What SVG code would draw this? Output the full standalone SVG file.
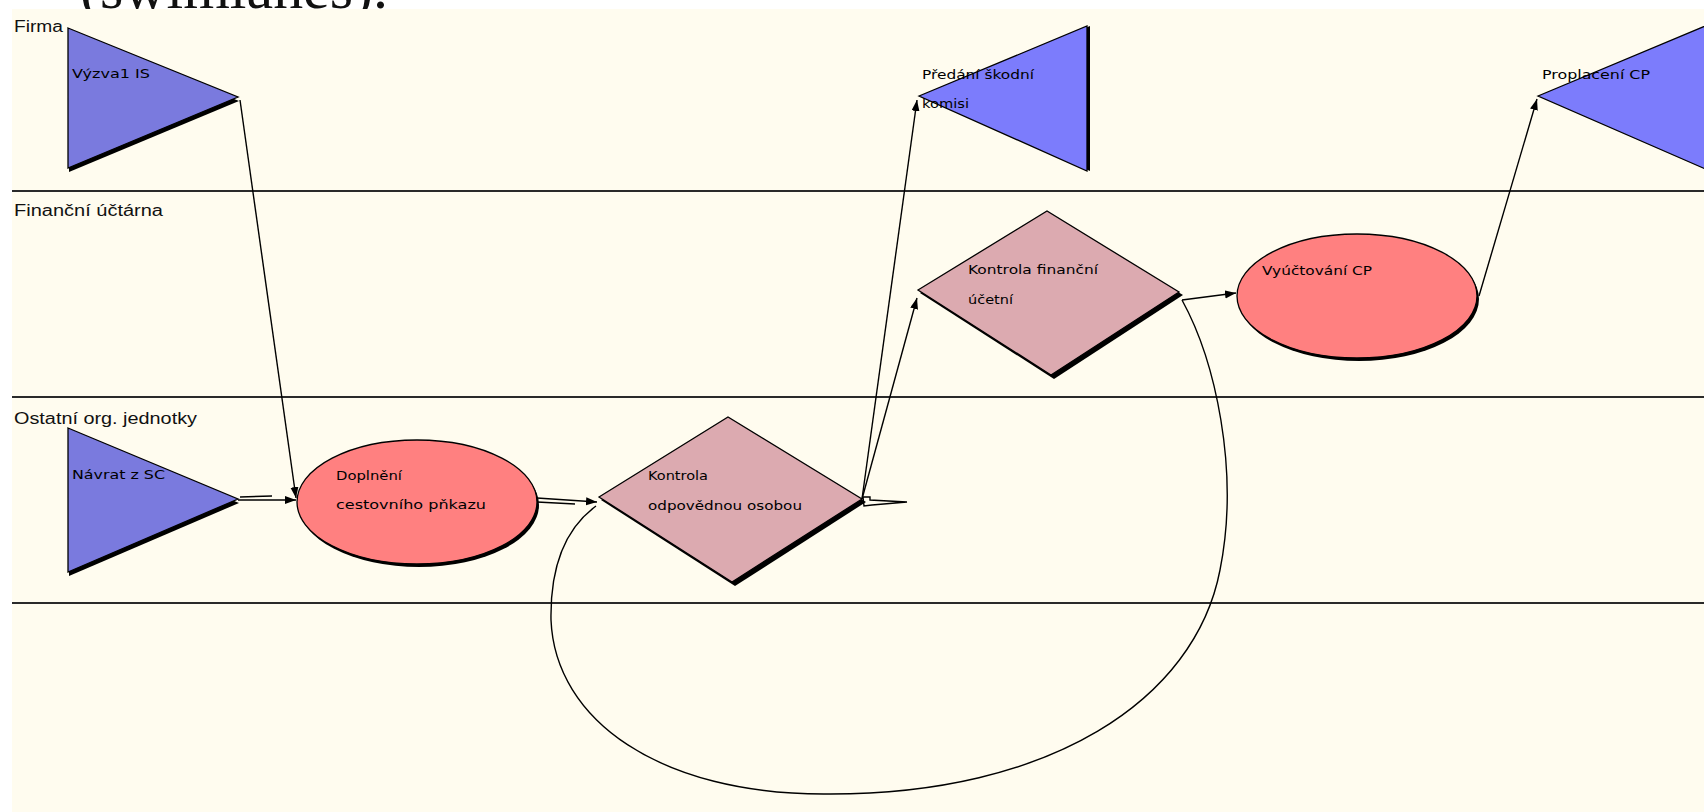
<svg xmlns="http://www.w3.org/2000/svg" width="1704" height="812" viewBox="0 0 1704 812">
<defs>
<marker id="arr" markerUnits="userSpaceOnUse" markerWidth="12" markerHeight="10" refX="11" refY="4" orient="auto">
<path d="M0,0 L11,4 L0,8 Z" fill="#000"/>
</marker>
<style>
.lane{stroke:#2a2a2a;stroke-width:2;fill:none}
.lbl{font-family:"Liberation Sans",Arial,sans-serif;font-size:16px;fill:#111}
.txt{font-family:"DejaVu Sans",Tahoma,sans-serif;font-size:12.5px;fill:#000}
.sh{fill:#000}
.triA{fill:#7a7ade;stroke:#000;stroke-width:1.3}
.triB{fill:#7c7cfc;stroke:#000;stroke-width:1.3}
.ell{fill:#ff8080;stroke:#000;stroke-width:1.3}
.dia{fill:#dcaab0;stroke:#000;stroke-width:1.3}
.con{fill:none;stroke:#000;stroke-width:1.4}
</style>
</defs>
<rect x="0" y="0" width="1704" height="812" fill="#ffffff"/>
<text x="80" y="8" font-family="Liberation Serif, Times New Roman, serif" font-size="60" textLength="308" lengthAdjust="spacingAndGlyphs" fill="#111">(swimlanes).</text>
<rect x="12" y="9" width="1692" height="803" fill="#fffcef"/>

<g id="lanes">
<line class="lane" x1="12" y1="191" x2="1704" y2="191"/>
<line class="lane" x1="12" y1="397" x2="1704" y2="397"/>
<line class="lane" x1="12" y1="603" x2="1704" y2="603"/>
<text class="lbl" x="14" y="32" textLength="49" lengthAdjust="spacingAndGlyphs">Firma</text>
<text class="lbl" x="14" y="216" textLength="149" lengthAdjust="spacingAndGlyphs">Finanční účtárna</text>
<text class="lbl" x="14" y="424" textLength="183" lengthAdjust="spacingAndGlyphs">Ostatní org. jednotky</text>
</g>

<g id="connectors">
<path class="con" d="M240,100 L296,498" marker-end="url(#arr)"/>
<path class="con" d="M238,500 L296,500" marker-end="url(#arr)"/>
<path class="con" d="M240,497 L272,496"/>
<path class="con" d="M537,498 L597,502" marker-end="url(#arr)"/>
<path class="con" d="M537,502 L575,504"/>
<path class="con" d="M862,499 L917,298" marker-end="url(#arr)"/>
<path class="con" d="M862,499 L917,100" marker-end="url(#arr)"/>
<path class="con" d="M863,497 L870,497 L870,500 L907,502 L872,505 L864,506 Z" fill="#fffcef"/>
<path class="con" d="M1182,300 L1236,293" marker-end="url(#arr)"/>
<path class="con" d="M1182,300 C1215,360 1240,470 1220,570 C1195,700 1050,795 827,794 C660,795 555,720 551,620 C550,560 570,525 596,506"/>
<path class="con" d="M1479,296 L1537,99" marker-end="url(#arr)"/>
</g>

<g id="n-vyzva">
<polygon class="sh" points="69,32 239,101 69,172"/>
<polygon class="triA" points="68,28 238,97 68,168"/>
<text class="txt" x="72" y="78" textLength="78" lengthAdjust="spacingAndGlyphs">Výzva1 IS</text>
</g>

<g id="n-predani">
<polygon class="sh" points="922,96 1090,26 1090,171"/>
<polygon class="triB" points="919,96 1087,26 1087,171"/>
<text class="txt" x="922" y="79" textLength="112" lengthAdjust="spacingAndGlyphs">Předání škodní</text>
<text class="txt" x="922" y="108" textLength="47" lengthAdjust="spacingAndGlyphs">komisi</text>
</g>

<g id="n-proplaceni">
<polygon class="triB" points="1538,96 1710,24 1710,171"/>
<text class="txt" x="1542" y="79" textLength="108" lengthAdjust="spacingAndGlyphs">Proplacení CP</text>
</g>

<g id="n-navrat">
<polygon class="sh" points="69,432 239,503 69,576"/>
<polygon class="triA" points="68,428 238,499 68,572"/>
<text class="txt" x="72" y="479" textLength="93" lengthAdjust="spacingAndGlyphs">Návrat z SC</text>
</g>

<g id="n-doplneni">
<ellipse class="sh" cx="419" cy="505" rx="120" ry="62"/>
<ellipse class="ell" cx="417" cy="502" rx="120" ry="62"/>
<text class="txt" x="336" y="480" textLength="66" lengthAdjust="spacingAndGlyphs">Doplnění</text>
<text class="txt" x="336" y="509" textLength="150" lengthAdjust="spacingAndGlyphs">cestovního pňkazu</text>
</g>

<g id="n-kontrola1">
<polygon class="sh" points="601,500 731,420 866,502 735,586"/>
<polygon class="dia" points="599,497 728,417 862,499 732,582"/>
<text class="txt" x="648" y="480" textLength="60" lengthAdjust="spacingAndGlyphs">Kontrola</text>
<text class="txt" x="648" y="510" textLength="154" lengthAdjust="spacingAndGlyphs">odpovědnou osobou</text>
</g>

<g id="n-kontrola2">
<polygon class="sh" points="920,293 1050,214 1183,295 1054,379"/>
<polygon class="dia" points="918,290 1047,211 1179,292 1051,375"/>
<text class="txt" x="968" y="274" textLength="130" lengthAdjust="spacingAndGlyphs">Kontrola finanční</text>
<text class="txt" x="968" y="304" textLength="45" lengthAdjust="spacingAndGlyphs">účetní</text>
</g>

<g id="n-vyuctovani">
<ellipse class="sh" cx="1359" cy="299" rx="120" ry="62"/>
<ellipse class="ell" cx="1357" cy="296" rx="120" ry="62"/>
<text class="txt" x="1262" y="275" textLength="110" lengthAdjust="spacingAndGlyphs">Vyúčtování CP</text>
</g>
</svg>
